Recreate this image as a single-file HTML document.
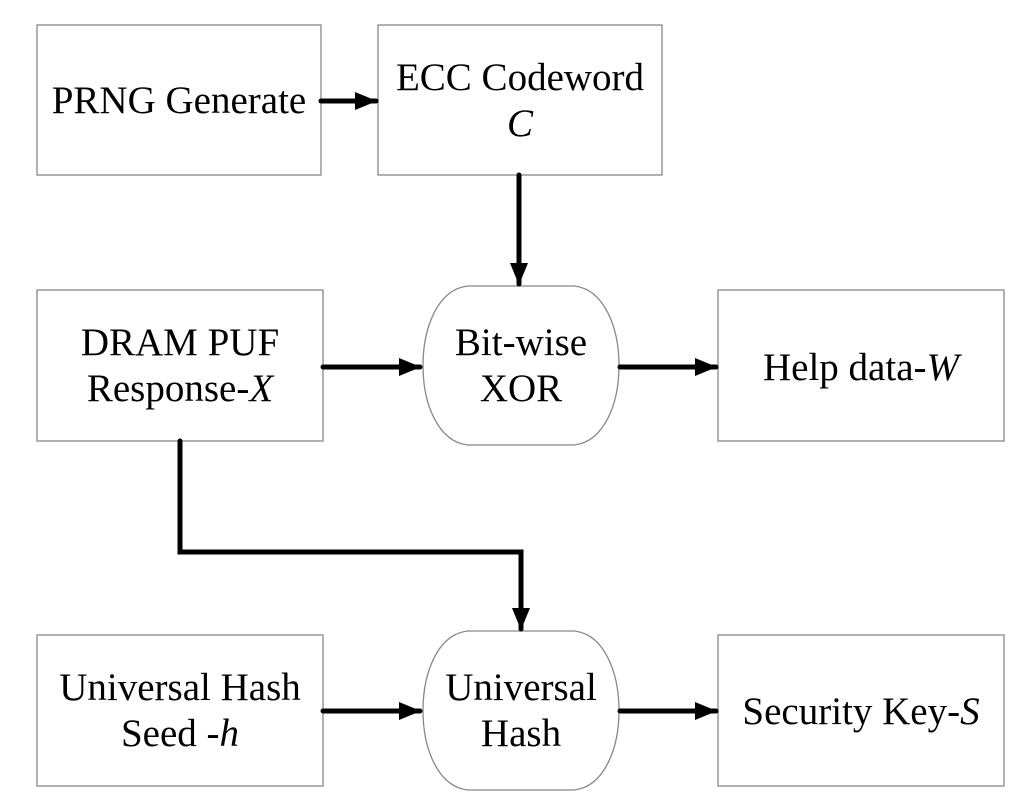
<!DOCTYPE html>
<html><head><meta charset="utf-8"><style>
html,body{margin:0;padding:0;background:#fff;}
svg{display:block;}
text{font-family:"Liberation Serif",serif;font-size:39px;fill:#000;text-anchor:middle;}
</style></head><body>
<svg width="1024" height="806" viewBox="0 0 1024 806" xmlns="http://www.w3.org/2000/svg">
<defs>
<marker id="a" markerWidth="4.4" markerHeight="3.6" refX="4.2" refY="1.8" orient="auto" markerUnits="strokeWidth">
<path d="M0,0 L4.4,1.8 L0,3.6 Z" fill="#000"/>
</marker>
</defs>
<g fill="#fff" stroke="#888" stroke-width="1.3">
<rect x="37" y="25" width="284" height="150"/>
<rect x="378" y="25" width="284" height="150"/>
<rect x="37" y="290" width="286" height="151"/>
<rect x="718" y="290" width="286" height="151"/>
<rect x="37" y="635" width="286" height="151"/>
<rect x="718" y="635" width="286" height="151"/>
<path d="M468 286 L574 286 C634 292 634 439 574 445 L468 445 C408 439 408 292 468 286 Z"/>
<path d="M468 631 L574 631 C634 637 634 784 574 790 L468 790 C408 784 408 637 468 631 Z"/>
</g>
<g stroke="#000" stroke-width="5" fill="none" stroke-linecap="round" stroke-linejoin="miter">
<line x1="321" y1="101" x2="376" y2="101" marker-end="url(#a)"/>
<line x1="519" y1="175" x2="519" y2="284" marker-end="url(#a)"/>
<line x1="323" y1="367" x2="420" y2="367" marker-end="url(#a)"/>
<line x1="620" y1="367" x2="716" y2="367" marker-end="url(#a)"/>
<polyline points="180,441 180,552 521,552 521,629" marker-end="url(#a)"/>
<line x1="323" y1="711" x2="420" y2="711" marker-end="url(#a)"/>
<line x1="620" y1="711" x2="716" y2="711" marker-end="url(#a)"/>
</g>
<text x="179" y="113">PRNG Generate</text>
<text x="520" y="90">ECC Codeword</text>
<text x="520" y="136" font-style="italic">C</text>
<text x="180" y="355">DRAM PUF</text>
<text x="180" y="401">Response-<tspan font-style="italic">X</tspan></text>
<text x="521" y="355">Bit-wise</text>
<text x="521" y="401">XOR</text>
<text x="861" y="380">Help data-<tspan font-style="italic">W</tspan></text>
<text x="180" y="700">Universal Hash</text>
<text x="180" y="746">Seed -<tspan font-style="italic">h</tspan></text>
<text x="521" y="700">Universal</text>
<text x="521" y="746">Hash</text>
<text x="861" y="724">Security Key-<tspan font-style="italic">S</tspan></text>
</svg>
</body></html>
